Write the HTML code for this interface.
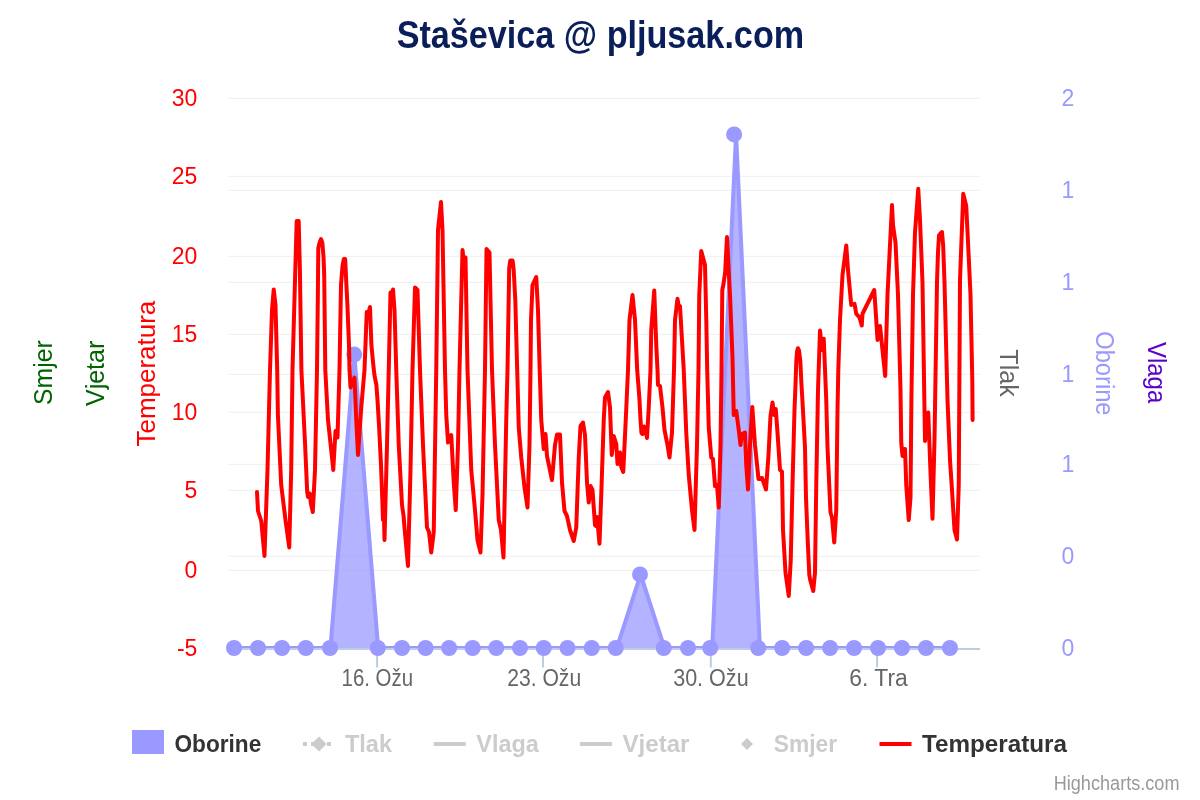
<!DOCTYPE html>
<html lang="hr">
<head>
<meta charset="utf-8">
<title>Staševica @ pljusak.com</title>
<style>
html,body{margin:0;padding:0;background:#fff;}
body{width:1200px;height:800px;overflow:hidden;font-family:"Liberation Sans",sans-serif;}
svg{display:block;}
svg text{font-family:"Liberation Sans",sans-serif;}
.grid path{stroke:#f1f1f1;stroke-width:1.2;fill:none;}
.ax{font-size:23px;}
.leg{font-size:24px;font-weight:bold;}
.ttl{font-size:25.5px;}
</style>
</head>
<body>
<svg width="1200" height="800" viewBox="0 0 1200 800">
<rect width="1200" height="800" fill="#ffffff"/>
<text x="600.4" y="47.5" text-anchor="middle" font-size="39.5" font-weight="bold" fill="#0a1e5a" textLength="407.5" lengthAdjust="spacingAndGlyphs">Staševica @ pljusak.com</text>
<g class="grid"><path d="M228.5 98.4 H980"/><path d="M228.5 176.4 H980"/><path d="M228.5 256.4 H980"/><path d="M228.5 334.4 H980"/><path d="M228.5 412.4 H980"/><path d="M228.5 490.4 H980"/><path d="M228.5 570.4 H980"/><path d="M228.5 190.4 H980"/><path d="M228.5 282.4 H980"/><path d="M228.5 374.4 H980"/><path d="M228.5 464.4 H980"/><path d="M228.5 556.4 H980"/></g>
<path d="M228.5 649 H980" stroke="#bccce2" stroke-width="2" fill="none"/>
<g stroke="#bccce2" stroke-width="2" fill="none"><path d="M377.1 649 V667.5"/><path d="M543.0 649 V667.5"/><path d="M710.8 649 V667.5"/><path d="M877.1 649 V667.5"/></g>
<g class="ax" fill="#ff0000"><text x="197.4" y="105.7" text-anchor="end">30</text><text x="197.4" y="183.7" text-anchor="end">25</text><text x="197.4" y="263.7" text-anchor="end">20</text><text x="197.4" y="341.7" text-anchor="end">15</text><text x="197.4" y="419.7" text-anchor="end">10</text><text x="197.4" y="497.7" text-anchor="end">5</text><text x="197.4" y="577.7" text-anchor="end">0</text><text x="197.4" y="655.7" text-anchor="end">-5</text></g>
<g class="ax" fill="#9999ff"><text x="1061.5" y="105.7">2</text><text x="1061.5" y="197.7">1</text><text x="1061.5" y="289.7">1</text><text x="1061.5" y="381.7">1</text><text x="1061.5" y="471.7">1</text><text x="1061.5" y="563.7">0</text><text x="1061.5" y="655.7">0</text></g>
<g class="ax" style="font-size:23.5px" fill="#666666"><text x="377.3" y="686" text-anchor="middle" textLength="71.5" lengthAdjust="spacingAndGlyphs">16. Ožu</text><text x="544.2" y="686" text-anchor="middle" textLength="74" lengthAdjust="spacingAndGlyphs">23. Ožu</text><text x="710.9" y="686" text-anchor="middle" textLength="75.5" lengthAdjust="spacingAndGlyphs">30. Ožu</text><text x="878.5" y="686" text-anchor="middle" textLength="58.5" lengthAdjust="spacingAndGlyphs">6. Tra</text></g>
<g class="ttl">
<text transform="translate(52.2 372.6) rotate(-90)" text-anchor="middle" fill="#006400" textLength="64.6" lengthAdjust="spacingAndGlyphs">Smjer</text>
<text transform="translate(104 373.4) rotate(-90)" text-anchor="middle" fill="#006400" textLength="65.3" lengthAdjust="spacingAndGlyphs">Vjetar</text>
<text transform="translate(155.3 373.6) rotate(-90)" text-anchor="middle" fill="#ff0000" textLength="145.8" lengthAdjust="spacingAndGlyphs">Temperatura</text>
<text transform="translate(1000.4 373) rotate(90)" text-anchor="middle" fill="#666666" textLength="47.3" lengthAdjust="spacingAndGlyphs">Tlak</text>
<text transform="translate(1096 373.4) rotate(90)" text-anchor="middle" fill="#9999ff" textLength="84.2" lengthAdjust="spacingAndGlyphs">Oborine</text>
<text transform="translate(1148 372.6) rotate(90)" text-anchor="middle" fill="#5a00c8" textLength="61.4" lengthAdjust="spacingAndGlyphs">Vlaga</text>
</g>
<defs><clipPath id="plot"><rect x="228" y="97" width="752" height="551"/></clipPath></defs>
<g clip-path="url(#plot)">
<path d="M235.00 648.00 L258.86 648.00 L282.72 648.00 L306.58 648.00 L330.44 648.00 L354.30 354.50 L378.16 648.00 L402.02 648.00 L425.88 648.00 L449.74 648.00 L473.60 648.00 L497.46 648.00 L521.32 648.00 L545.18 648.00 L569.04 648.00 L592.90 648.00 L616.76 648.00 L640.62 574.40 L664.48 648.00 L688.34 648.00 L712.20 648.00 L736.06 134.40 L759.92 648.00 L783.78 648.00 L807.64 648.00 L831.50 648.00 L855.36 648.00 L879.22 648.00 L903.08 648.00 L926.94 648.00 L950.80 648.00 L950.80 648 L235.00 648 Z" fill="#9999ff" fill-opacity="0.75" stroke="none"/>
<path d="M235.00 648.00 L258.86 648.00 L282.72 648.00 L306.58 648.00 L330.44 648.00 L354.30 354.50 L378.16 648.00 L402.02 648.00 L425.88 648.00 L449.74 648.00 L473.60 648.00 L497.46 648.00 L521.32 648.00 L545.18 648.00 L569.04 648.00 L592.90 648.00 L616.76 648.00 L640.62 574.40 L664.48 648.00 L688.34 648.00 L712.20 648.00 L736.06 134.40 L759.92 648.00 L783.78 648.00 L807.64 648.00 L831.50 648.00 L855.36 648.00 L879.22 648.00 L903.08 648.00 L926.94 648.00 L950.80 648.00" fill="none" stroke="#9999ff" stroke-width="4" stroke-linejoin="round" stroke-linecap="round"/>
</g>
<g fill="#9999ff"><circle cx="234.00" cy="648" r="8"/><circle cx="258.00" cy="648" r="8"/><circle cx="282.00" cy="648" r="8"/><circle cx="305.80" cy="648" r="8"/><circle cx="330.00" cy="648" r="8"/><circle cx="354.20" cy="354.5" r="8"/><circle cx="377.80" cy="648" r="8"/><circle cx="402.00" cy="648" r="8"/><circle cx="425.56" cy="648" r="8"/><circle cx="449.12" cy="648" r="8"/><circle cx="472.69" cy="648" r="8"/><circle cx="496.25" cy="648" r="8"/><circle cx="520.00" cy="648" r="8"/><circle cx="543.75" cy="648" r="8"/><circle cx="567.50" cy="648" r="8"/><circle cx="591.75" cy="648" r="8"/><circle cx="615.75" cy="648" r="8"/><circle cx="640.00" cy="574.4" r="8"/><circle cx="663.75" cy="648" r="8"/><circle cx="688.00" cy="648" r="8"/><circle cx="710.20" cy="648" r="8"/><circle cx="734.10" cy="134.4" r="8"/><circle cx="758.20" cy="648" r="8"/><circle cx="782.17" cy="648" r="8"/><circle cx="806.13" cy="648" r="8"/><circle cx="830.10" cy="648" r="8"/><circle cx="854.07" cy="648" r="8"/><circle cx="878.03" cy="648" r="8"/><circle cx="902.00" cy="648" r="8"/><circle cx="926.00" cy="648" r="8"/><circle cx="950.00" cy="648" r="8"/></g>
<path d="M257.00 492.00 L258.00 511.00 L261.25 521.00 L264.50 556.00 L267.50 470.00 L270.00 370.00 L272.00 310.00 L273.75 289.50 L275.50 305.00 L277.20 370.00 L277.90 415.00 L281.20 485.00 L285.50 520.00 L289.25 547.50 L291.20 470.00 L292.50 370.00 L295.30 270.00 L296.70 221.00 L298.70 221.00 L299.90 270.00 L301.40 370.00 L305.00 442.50 L307.20 492.00 L308.00 497.00 L309.80 493.50 L310.80 503.00 L312.80 512.00 L315.00 470.00 L317.00 370.00 L317.80 300.00 L318.30 248.00 L319.50 243.00 L321.00 239.00 L322.40 243.00 L323.60 258.00 L324.20 275.00 L325.00 345.00 L325.30 370.00 L328.00 420.00 L331.75 455.00 L333.25 470.00 L335.50 431.00 L337.50 437.50 L339.50 370.00 L340.20 330.00 L341.00 285.00 L342.50 266.00 L343.80 259.00 L345.20 259.00 L346.40 285.00 L347.40 305.00 L349.00 345.00 L349.50 370.00 L350.50 387.50 L354.50 377.50 L356.25 420.00 L358.00 455.00 L361.25 407.50 L364.50 370.00 L366.75 312.00 L367.50 317.00 L370.00 307.00 L371.40 345.00 L373.00 362.00 L374.40 375.00 L376.40 385.00 L377.50 400.00 L379.00 425.00 L381.00 465.00 L382.50 505.00 L383.00 520.00 L383.70 506.00 L384.50 540.00 L387.00 445.00 L388.75 370.00 L390.50 292.50 L391.50 296.00 L393.00 289.50 L394.50 310.00 L396.25 370.00 L398.75 445.00 L402.00 505.00 L403.60 516.00 L404.20 524.00 L408.00 566.00 L410.50 470.00 L412.50 370.00 L415.00 287.50 L417.50 290.00 L420.00 370.00 L423.00 445.00 L427.00 527.50 L429.00 532.00 L431.25 552.50 L433.75 532.00 L436.25 370.00 L438.00 230.00 L441.00 202.00 L442.50 230.00 L445.00 370.00 L446.25 415.00 L448.00 442.50 L451.25 435.00 L453.75 482.50 L455.75 510.00 L458.00 445.00 L459.50 370.00 L462.50 250.00 L464.00 262.00 L465.50 257.50 L467.50 370.00 L471.25 470.00 L475.00 510.00 L477.50 540.00 L480.50 552.50 L482.50 495.00 L485.00 370.00 L486.50 249.00 L489.50 252.50 L492.00 370.00 L495.00 445.00 L498.75 520.00 L501.00 530.00 L503.50 557.50 L506.25 420.00 L507.50 370.00 L509.20 268.00 L510.30 260.50 L512.60 260.50 L513.70 270.00 L515.30 300.00 L517.20 370.00 L518.75 427.50 L521.25 457.50 L524.50 487.50 L527.50 507.50 L529.50 445.00 L530.50 370.00 L531.00 320.00 L532.50 285.00 L536.25 277.00 L538.00 310.00 L539.70 370.00 L541.25 420.00 L543.75 449.00 L545.50 434.00 L547.00 456.00 L552.00 480.00 L555.00 445.00 L557.00 434.50 L560.00 434.50 L562.00 482.50 L564.50 511.00 L567.00 516.00 L570.00 530.00 L573.75 541.00 L576.25 527.50 L578.75 457.50 L580.50 426.00 L583.00 422.50 L585.00 435.00 L587.00 482.50 L588.75 502.50 L590.50 486.00 L592.50 490.00 L595.00 525.00 L596.00 526.00 L597.00 517.00 L597.80 525.00 L599.50 543.75 L601.25 495.00 L603.75 420.00 L605.00 397.50 L608.00 392.00 L610.00 407.50 L611.75 455.00 L613.75 436.00 L616.25 444.00 L617.50 464.00 L620.00 452.50 L621.25 467.00 L623.25 472.00 L625.75 420.00 L628.00 370.00 L629.50 320.00 L632.50 295.00 L635.00 320.00 L637.20 370.00 L639.50 400.00 L640.50 420.00 L641.50 433.00 L642.50 434.00 L644.00 426.50 L645.20 428.00 L647.00 438.00 L648.75 407.50 L650.50 370.00 L651.25 330.00 L654.25 290.50 L656.25 345.00 L657.50 370.00 L658.00 385.00 L660.00 386.00 L662.50 407.50 L664.50 430.00 L667.50 445.00 L669.50 457.50 L672.00 432.50 L674.00 370.00 L675.00 320.00 L677.50 298.75 L679.00 308.00 L680.00 306.00 L682.00 340.00 L683.75 370.00 L686.25 432.50 L688.75 475.00 L692.00 510.00 L694.50 530.00 L697.00 445.00 L698.50 370.00 L699.25 295.00 L701.25 251.00 L705.00 265.00 L706.30 320.00 L707.20 370.00 L708.75 427.50 L711.25 457.50 L713.00 459.00 L715.00 486.00 L717.00 485.00 L718.75 507.50 L720.50 445.00 L721.50 370.00 L722.30 290.00 L723.50 284.00 L725.20 272.00 L726.30 250.00 L727.00 237.00 L730.00 295.00 L732.50 357.50 L733.75 415.00 L736.25 411.00 L738.75 430.00 L740.50 445.00 L742.00 434.00 L745.00 432.50 L746.25 465.00 L748.00 489.50 L750.00 445.00 L752.30 407.00 L755.00 445.00 L758.50 479.00 L762.00 478.00 L766.00 489.50 L768.50 455.00 L770.50 416.00 L772.50 402.50 L774.20 415.00 L775.75 409.00 L777.50 432.50 L780.00 470.00 L782.00 471.50 L783.00 530.00 L785.50 572.50 L788.75 596.00 L790.75 560.00 L792.50 485.00 L794.50 410.00 L795.50 385.00 L796.30 361.00 L797.10 351.00 L798.00 348.20 L799.00 350.50 L800.30 361.00 L801.50 385.00 L802.50 402.00 L803.50 420.00 L805.00 447.50 L806.00 497.50 L807.80 542.50 L809.30 575.00 L810.20 580.00 L813.25 591.00 L815.00 572.50 L816.25 485.00 L818.00 390.00 L820.00 330.50 L822.00 350.00 L823.75 338.75 L826.25 400.00 L827.50 447.50 L830.50 512.50 L832.00 517.50 L834.25 542.50 L836.25 510.00 L837.50 410.00 L838.30 370.00 L840.00 320.00 L842.50 275.00 L846.25 245.50 L848.00 270.00 L851.25 305.00 L854.50 303.75 L856.25 313.75 L859.50 317.50 L861.75 325.50 L862.50 313.75 L874.25 290.00 L876.25 320.00 L877.50 340.00 L880.00 326.00 L883.00 355.00 L885.20 376.00 L887.50 295.00 L890.00 245.00 L892.00 205.00 L893.00 225.00 L895.50 242.50 L898.00 295.00 L900.50 390.00 L901.25 442.50 L902.50 456.00 L905.00 449.00 L906.25 485.00 L908.75 520.00 L910.50 497.50 L911.40 400.00 L913.00 295.00 L915.00 232.50 L918.25 188.75 L920.00 220.00 L922.50 282.50 L924.50 410.00 L925.00 441.00 L928.25 412.50 L930.50 472.50 L932.50 518.75 L934.50 440.00 L937.00 282.50 L938.00 252.00 L939.00 235.50 L940.50 233.50 L942.00 232.00 L943.20 246.00 L944.50 282.50 L947.50 400.00 L950.00 460.00 L952.00 490.00 L954.50 530.00 L957.00 539.50 L958.75 485.00 L960.00 280.00 L963.25 193.75 L966.25 206.00 L968.75 257.50 L970.50 295.00 L972.30 380.00 L972.60 420.00" fill="none" stroke="#ff0000" stroke-width="4" stroke-linejoin="round" stroke-linecap="round"/>
<g class="leg">
<rect x="132" y="730" width="32" height="24" fill="#9999ff"/>
<text x="174.5" y="751.5" fill="#333333" textLength="86.8" lengthAdjust="spacingAndGlyphs">Oborine</text>
<path d="M303 744 H335" stroke="#cccccc" stroke-width="4" stroke-dasharray="4 4" fill="none"/>
<path d="M319 736.4 L326.6 744 L319 751.6 L311.4 744 Z" fill="#cccccc"/>
<text x="345" y="751.5" fill="#cccccc" textLength="47" lengthAdjust="spacingAndGlyphs">Tlak</text>
<path d="M433.7 744 H465.7" stroke="#cccccc" stroke-width="4" fill="none"/>
<text x="476.3" y="751.5" fill="#cccccc" textLength="62.5" lengthAdjust="spacingAndGlyphs">Vlaga</text>
<path d="M580 744 H612" stroke="#cccccc" stroke-width="4" fill="none"/>
<text x="622.5" y="751.5" fill="#cccccc" textLength="67" lengthAdjust="spacingAndGlyphs">Vjetar</text>
<path d="M747 738 L753 744 L747 750 L741 744 Z" fill="#cccccc"/>
<text x="773.8" y="751.5" fill="#cccccc" textLength="63.3" lengthAdjust="spacingAndGlyphs">Smjer</text>
<path d="M879.5 744 H911.5" stroke="#ff0000" stroke-width="4" fill="none"/>
<text x="922" y="751.5" fill="#333333" textLength="145" lengthAdjust="spacingAndGlyphs">Temperatura</text>
</g>
<text x="1179.5" y="790" text-anchor="end" font-size="19.4" fill="#999999" textLength="125.8" lengthAdjust="spacingAndGlyphs">Highcharts.com</text>
</svg>
</body>
</html>
